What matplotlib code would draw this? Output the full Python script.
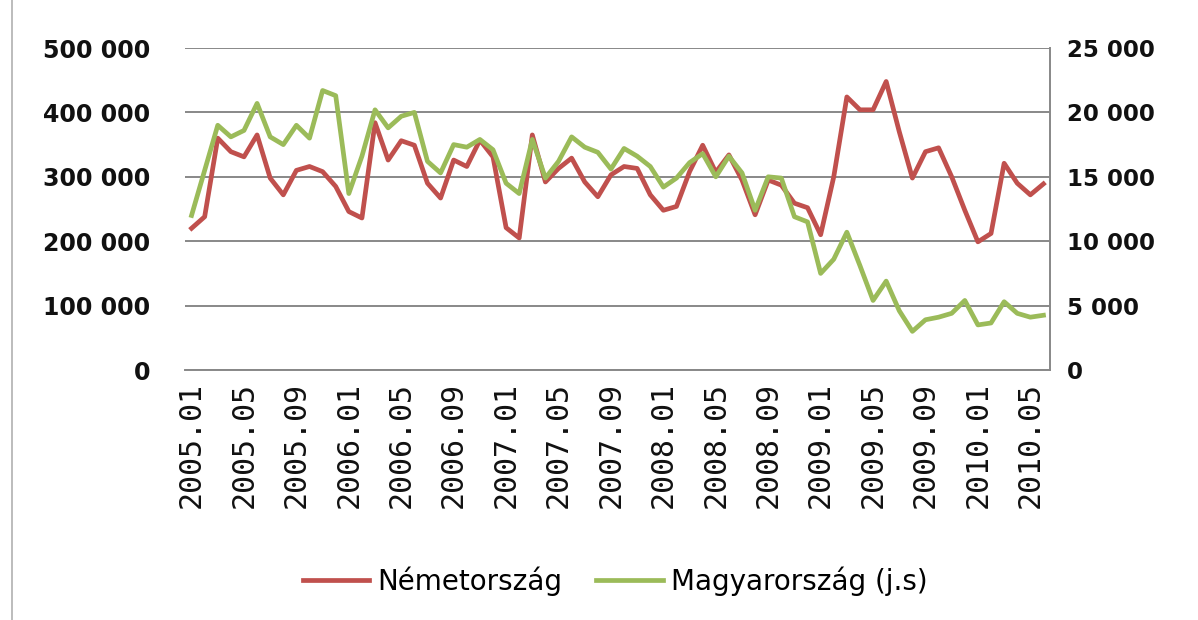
import numpy as np
import matplotlib.pyplot as plt
from matplotlib.lines import Line2D
from matplotlib.ticker import FuncFormatter

# havi adatok 2005.01 - 2010.06
years = [2005, 2006, 2007, 2008, 2009, 2010]
months = ["%d.%02d" % (y, m) for y in years for m in range(1, 13)][:66]

nemet = [220000, 238000, 360000, 339000, 331000, 365000, 298000, 272000, 310000, 316000,
         308000, 285000, 246000, 236000, 384000, 326000, 356000, 349000, 290000, 267000,
         326000, 316000, 357000, 331000, 221000, 205000, 365000, 292000, 313000, 329000,
         292000, 269000, 303000, 316000, 313000, 272000, 248000, 254000, 308000, 349000,
         307000, 334000, 295000, 241000, 295000, 287000, 259000, 252000, 210000, 300000,
         424000, 404000, 404000, 448000, 370000, 298000, 339000, 345000, 300000, 248000,
         199000, 212000, 321000, 290000, 272000, 289000]

magyar = [12000, 15500, 19000, 18100, 18600, 20700, 18100, 17500, 19000, 18000,
          21700, 21300, 13700, 16600, 20200, 18800, 19700, 20000, 16200, 15300,
          17500, 17300, 17900, 17100, 14500, 13700, 17900, 14900, 16200, 18100,
          17300, 16900, 15600, 17200, 16600, 15800, 14200, 14900, 16100, 16800,
          15000, 16600, 15300, 12400, 15000, 14900, 11900, 11500, 7500, 8600,
          10700, 8100, 5400, 6900, 4600, 3000, 3900, 4100, 4400, 5400,
          3500, 3650, 5300, 4400, 4100, 4250]

labels = ["Németország", "Magyarország (j.s)"]


def space_fmt(v, pos):
    return "{:,}".format(int(round(v))).replace(",", " ")


fig = plt.figure(figsize=(11.98, 6.2), dpi=100)
ax = fig.add_axes([185 / 1198, 1 - 370 / 620, 865 / 1198, 322 / 620])
ax2 = ax.twinx()

x = np.arange(len(months))
ax.plot(x, nemet, color='#C0504D', lw=3.4, label=labels[0], solid_joinstyle='round', zorder=3)
ax2.plot(x, magyar, color='#9BBB59', lw=3.4, label=labels[1], solid_joinstyle='round', zorder=3)

ax.set_xlim(-0.5, len(months) - 0.5)
ax.set_ylim(0, 500000)
ax2.set_ylim(0, 25000)
ax.set_yticks(np.arange(0, 500001, 100000))
ax2.set_yticks(np.arange(0, 25001, 5000))
ax.yaxis.set_major_formatter(FuncFormatter(space_fmt))
ax2.yaxis.set_major_formatter(FuncFormatter(space_fmt))

ax.yaxis.grid(True, color='#888888', lw=1.4)
ax.set_axisbelow(True)

ax.set_xticks(x[::4])
ax.set_xticklabels(months[::4], rotation=90, fontsize=21.5, color='#111111',
                   family='DejaVu Sans Mono')

for a in (ax, ax2):
    for s in a.spines.values():
        s.set_visible(False)
ax2.spines['right'].set_visible(True)
ax2.spines['right'].set_color('#888888')
ax2.spines['right'].set_linewidth(1.4)
ax.spines['bottom'].set_visible(True)
ax.spines['bottom'].set_color('#888888')
ax.spines['bottom'].set_linewidth(1.4)

ax.tick_params(axis='x', length=0, pad=9)
ax.tick_params(axis='y', length=0, pad=25, labelsize=17, labelcolor='#111111')
ax2.tick_params(axis='y', length=0, pad=12, labelsize=16.5, labelcolor='#111111')
for t in ax.get_yticklabels() + ax2.get_yticklabels():
    t.set_fontweight('bold')

h1, l1 = ax.get_legend_handles_labels()
h2, l2 = ax2.get_legend_handles_labels()
fig.legend(h1 + h2, l1 + l2, loc='center', bbox_to_anchor=(615 / 1198, 1 - 581 / 620),
           ncol=2, frameon=False, fontsize=20, handlelength=2.4, columnspacing=1.2,
           handletextpad=0.3)

# bal oldali keretvonal
fig.add_artist(Line2D([12 / 1198, 12 / 1198], [0, 1], color='#b0b0b0', lw=1.2))

plt.savefig("out.png", dpi=100)
